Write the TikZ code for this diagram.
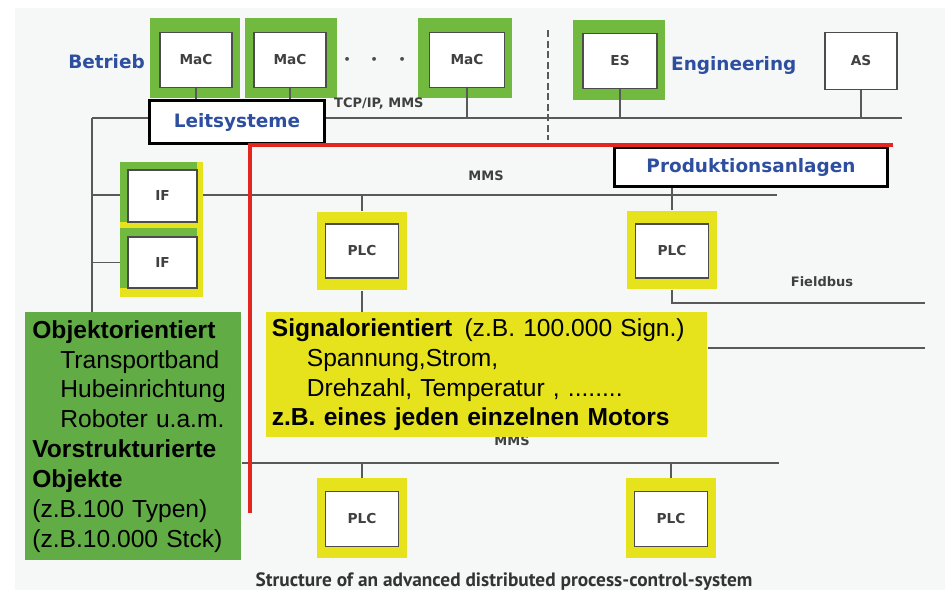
\documentclass[tikz,border=0pt]{standalone}
\usepackage{fontspec}
\setmainfont{Liberation Sans}
\newfontfamily\labelfont{DejaVu Sans}
\newfontfamily\capfont{PT Sans}
\usepackage{xcolor}
\usetikzlibrary{positioning, calc}

\definecolor{macgreen}{HTML}{72B940}
\definecolor{objgreen}{HTML}{62AC46}
\definecolor{plcyellow}{HTML}{E6E31C}
\definecolor{busred}{HTML}{E42620}
\definecolor{headblue}{HTML}{2E4FA0}
\definecolor{bggray}{HTML}{F6F7F7}

\begin{document}
\begin{tikzpicture}[
    x=0.02cm, y=-0.02cm,
    frame/.style={rectangle, inner sep=0pt, minimum width=1.8cm, minimum height=1.62cm},
    greenframe/.style={frame, fill=macgreen},
    yellowframe/.style={frame, fill=plcyellow, minimum height=1.58cm},
    unit/.style={rectangle, draw=black!70, line width=0.9pt, fill=white, inner sep=0pt, minimum width=1.44cm, minimum height=1.1cm, font=\labelfont\bfseries\fontsize{7.8}{9}\selectfont, text=black!75},
    bus/.style={draw=black!65, line width=1.1pt},
    tag/.style={font=\labelfont\bfseries\fontsize{7.4}{9}\selectfont, text=black!75},
    head/.style={font=\labelfont\bfseries\fontsize{10.5}{12}\selectfont, text=headblue},
    titlebox/.style={rectangle, draw=black, line width=1.8pt, fill=white, inner sep=0pt, head},
    infobox/.style={rectangle, inner sep=0pt, align=left, font=\fontsize{14}{17}\selectfont},
]

% ===== Background =====
\fill[white] (0,0) rectangle (950,594);
\fill[bggray] (15,8) rectangle (945,590);
\useasboundingbox (0,0) rectangle (950,594);

% ===== Top: Betrieb (MaC stations) =====
\node[head, anchor=east] (betrieb) at (151,62) {Betrieb};
\node[greenframe] (mac1f) at (195,58) {};
\node[unit] (mac1) at (196,60) {MaC};
\node[greenframe, minimum width=1.86cm] (mac2f) at (291,58) {};
\node[unit] (mac2) at (290,60) {MaC};
\node[font=\bfseries\fontsize{20}{20}\selectfont, text=black!70] (dots) at (375,60) {$\cdot$\hspace{10pt}$\cdot$\hspace{10pt}$\cdot$};
\node[greenframe, minimum width=1.88cm] (mac3f) at (465,58) {};
\node[unit, minimum width=1.5cm] (mac3) at (467,60) {MaC};

% ===== Top: Engineering =====
\node[greenframe, minimum width=1.84cm, minimum height=1.6cm] (esf) at (619,60) {};
\node[unit, minimum width=1.48cm] (es) at (620,61) {ES};
\node[head, anchor=west] (eng) at (665,65) {Engineering};
\node[unit, minimum height=1.14cm] (as) at (861,61) {AS};

% ===== TCP/IP bus =====
\coordinate (tcpL) at (92,118);
\coordinate (tcpR) at (902,118);
\node[titlebox, minimum width=3.5cm, minimum height=0.86cm] (leit) at (237,122) {Leitsysteme};
\node[tag, anchor=west] (tcp) at (328,104) {TCP/IP, MMS};
\draw[bus] (tcpL) -- (leit.west |- tcpL);
\draw[bus] (leit.east |- tcpL) -- (tcpR);
\draw[bus] (mac1.south) -- (mac1 |- leit.north);
\draw[bus] (mac2.south) -- (mac2 |- leit.north);
\draw[bus] (mac3.south) -- (mac3 |- tcpL);
\draw[bus] (es.south) -- (es |- tcpL);
\draw[bus] (as.south) -- (as |- tcpL);

% ===== Separator =====
\coordinate (sepT) at (548,30);
\coordinate (sepB) at (548,140);
\draw[black!65, line width=1.3pt, dash pattern=on 4pt off 2pt] (sepT) -- (sepB);

% ===== Produktionsanlagen =====
\node[titlebox, minimum width=5.46cm, minimum height=0.78cm] (prod) at (751,167) {Produktionsanlagen};

% ===== Left: IF gateways =====
\node[frame, fill=plcyellow, minimum width=1.66cm, minimum height=1.32cm] (if1f) at (161.5,195) {};
\fill[macgreen] (if1f.north west) rectangle ($(if1f.north east)+(-6,8)$);
\fill[macgreen] (if1f.north west) rectangle ($(if1f.south west)+(8,-6)$);
\node[unit, minimum width=1.38cm, minimum height=1.04cm] (if1) at (162.5,196) {IF};
\node[frame, fill=plcyellow, minimum width=1.66cm, minimum height=1.38cm] (if2f) at (161.5,262.5) {};
\fill[macgreen] (if2f.north west) rectangle ($(if2f.north east)+(-6,9)$);
\fill[macgreen] (if2f.north west) rectangle ($(if2f.south west)+(8,-9)$);
\node[unit, minimum width=1.38cm, minimum height=1.02cm] (if2) at (162.5,262.5) {IF};

% ===== Info boxes =====
\node[infobox, fill=objgreen, anchor=north west, minimum width=4.32cm, minimum height=4.96cm, text width=4.04cm, inner xsep=0.14cm] (obj) at (25,312) {%
    \textbf{Objektorientiert}\\
    \hspace*{0.56cm}Transportband\\
    \hspace*{0.56cm}Hubeinrichtung\\
    \hspace*{0.56cm}Roboter u.a.m.\\
    \textbf{Vorstrukturierte}\\
    \textbf{Objekte}\\
    (z.B.100 Typen)\\
    (z.B.10.000 Stck)};

\node[tag] (mms1) at (486,176) {MMS};
\node[tag] (fieldbus) at (822,282) {Fieldbus};
\node[tag] (mms2) at (512,441) {MMS};

\node[infobox, fill=plcyellow, anchor=north west, minimum width=8.82cm, minimum height=2.5cm, text width=8.6cm, inner xsep=0.11cm] (sig) at (266,312) {%
    \textbf{Signalorientiert}\, (z.B. 100.000 Sign.)\\
    \hspace*{0.7cm}Spannung,Strom,\\
    \hspace*{0.7cm}Drehzahl, Temperatur , ........\\
    \textbf{z.B. eines jeden einzelnen Motors}};

% ===== PLCs =====
\node[yellowframe] (plc1f) at (362,251) {};
\node[unit, minimum width=1.46cm, minimum height=1.08cm] (plc1) at (362,251) {PLC};
\node[yellowframe] (plc2f) at (672,250) {};
\node[unit, minimum width=1.46cm, minimum height=1.08cm] (plc2) at (672,251) {PLC};
\node[yellowframe, minimum height=1.6cm] (plc3f) at (362,518) {};
\node[unit, minimum width=1.46cm, minimum height=1.1cm] (plc3) at (362,519) {PLC};
\node[yellowframe, minimum height=1.6cm] (plc4f) at (671,518) {};
\node[unit, minimum width=1.46cm, minimum height=1.1cm] (plc4) at (671,519) {PLC};

% ===== Field buses =====
\coordinate (mms1R) at (777,195);
\coordinate (fbR) at (925,303);
\coordinate (sigR) at (925,348);
\coordinate (mms2R) at (779,463);
\draw[bus] (tcpL) -- (tcpL |- obj.north);
\draw[bus] (tcpL |- mms1R) -- (if1f.west |- mms1R);
\draw[bus] (if1f.east |- mms1R) -- (mms1R);
\draw[bus] (tcpL |- if2) -- (if2f.west);
\draw[bus] (plc1f.north) -- (plc1f |- mms1R);
\draw[bus] (plc1f.south) -- (plc1f |- sig.north);
\draw[bus] (plc2f.north) -- (plc2f |- prod.south);
\draw[bus] (plc2f.south) -- (plc2f |- fbR) -- (fbR);
\draw[bus] (sig.east |- sigR) -- (sigR);
\draw[bus] (obj.east |- mms2R) -- (mms2R);
\draw[bus] (plc3f.north) -- (plc3f |- mms2R);
\draw[bus] (plc4f.north) -- (plc4f |- mms2R);

% ===== Boundary Leitsysteme / Produktion =====
\coordinate (redR) at (893,145);
\coordinate (redC) at (250,145);
\coordinate (redB) at (250,513);
\draw[busred, line width=2.8pt] (redR) -- (redC) -- (redB);

% ===== Caption =====
\node[font=\capfont\bfseries\fontsize{11}{12}\selectfont, text=black!80] (caption) at (504,582) {Structure of an advanced distributed process-control-system};

\end{tikzpicture}
\end{document}
